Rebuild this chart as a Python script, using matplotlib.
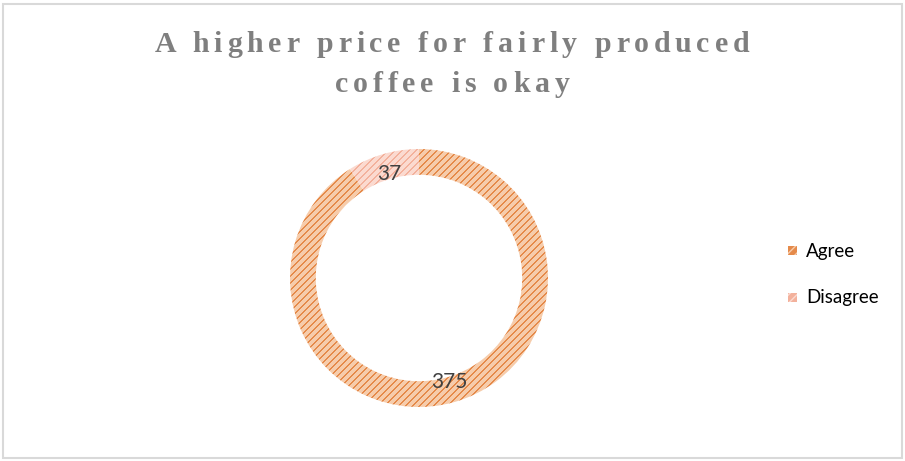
import numpy as np
import matplotlib.pyplot as plt
import matplotlib.patches as mpatches
from matplotlib.colors import to_rgb

labels = ['Agree', 'Disagree']
counts = [375, 37]
title_lines = ['A higher price for fairly produced', 'coffee is okay']

base_colors = ['#F6CCAB', '#FBDAD0']
stripe_colors = ['#E58A4A', '#F3B19C']

W, H = 905, 461
fig = plt.figure(figsize=(W / 100, H / 100), dpi=100)
fig.patch.set_facecolor('white')

# thin grey frame round the chart area
fig.patches.append(mpatches.Rectangle((3 / W, 3 / H), (W - 6) / W, (H - 7) / H,
                                      transform=fig.transFigure, fill=False,
                                      edgecolor='#D9D9D9', lw=1.5))

# donut placed in pixel terms
cx, cy, R = 419, 278, 129
ax = fig.add_axes([(cx - R) / W, (H - cy - R) / H, 2 * R / W, 2 * R / H])

wedges, _ = ax.pie(counts, colors=base_colors, startangle=90, counterclock=False,
                   radius=1, wedgeprops=dict(width=0.2, linewidth=0))

# diagonal stripe texture, one image per slice clipped to its wedge
n = 2 * R
rows, cols = np.mgrid[0:n, 0:n]
stripe = ((rows + cols) % 7) < 2
for w, bc, sc in zip(wedges, base_colors, stripe_colors):
    tex = np.where(stripe[..., None], to_rgb(sc), to_rgb(bc))
    im = ax.imshow(tex, extent=[-1, 1, -1, 1], interpolation='nearest', zorder=1.5)
    im.set_clip_path(w)

# white separators between slices
ax.pie(counts, startangle=90, counterclock=False, radius=1,
       wedgeprops=dict(width=0.2, fill=False, edgecolor='white', linewidth=3.2))

# value labels on the ring
for w, v in zip(wedges, counts):
    ang = np.deg2rad((w.theta1 + w.theta2) / 2)
    ax.text(0.84 * np.cos(ang), 0.84 * np.sin(ang), str(v), ha='center', va='center',
            fontsize=15, color='#404040', family='Lato', zorder=5)

ax.set_xlim(-1, 1)
ax.set_ylim(-1, 1)
ax.axis('off')

# legend drawn by hand
leg_y = [251, 297]
for lab, bc, sc, y in zip(labels, base_colors, stripe_colors, leg_y):
    fig.patches.append(mpatches.Rectangle((788 / W, (H - y - 4.5) / H), 9 / W, 9 / H,
                                          transform=fig.transFigure, facecolor=sc,
                                          edgecolor=bc, hatch='////', lw=0))
    fig.text(806 / W, (H - y) / H, lab, ha='left', va='center', fontsize=13.5,
             family='Lato', color='#000000')

# letter-spaced title
renderer = fig.canvas.get_renderer()
title_kw = dict(fontsize=21.5, fontweight='bold', family='Liberation Serif', color='#7F7F7F')


def text_width(s):
    t = fig.text(0, 0, s + '|', **title_kw)
    bar = fig.text(0, 0, '|', **title_kw)
    w = t.get_window_extent(renderer).width - bar.get_window_extent(renderer).width
    t.remove()
    bar.remove()
    return w


tracking = 4.9
baselines = [52, 92]
for line, base in zip(title_lines, baselines):
    total = text_width(line) + tracking * (len(line) - 1)
    x0 = 452 - total / 2
    for i, ch in enumerate(line):
        if ch == ' ':
            continue
        x = x0 + text_width(line[:i]) + tracking * i
        fig.text(x / W, (H - base) / H, ch, ha='left', va='baseline', **title_kw)

fig.savefig('out.png', dpi=100, facecolor='white')
